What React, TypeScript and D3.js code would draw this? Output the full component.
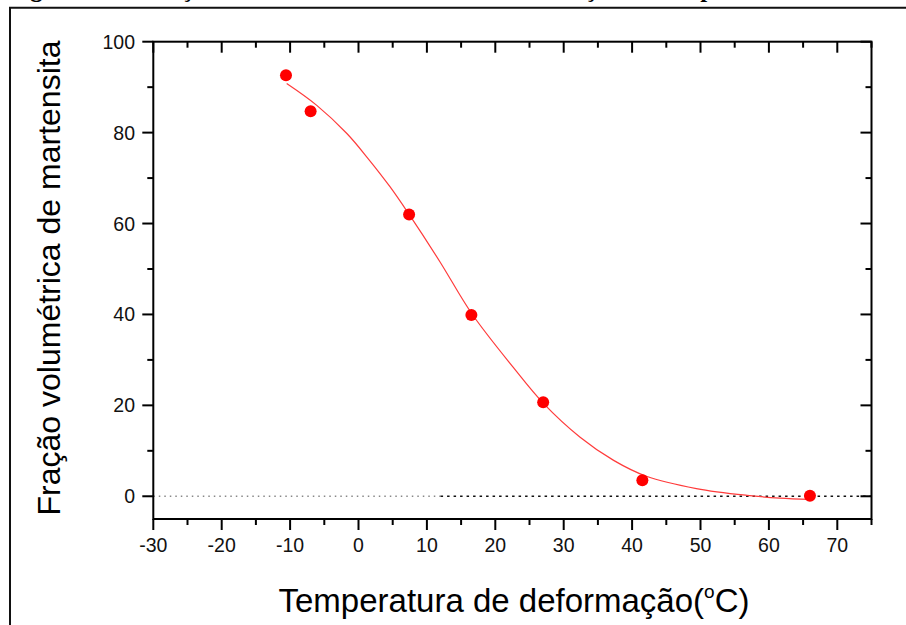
import React from 'react';
import * as d3 from 'd3';

// measured points
const tempC = [-10.6, -7.0, 7.4, 16.5, 27.0, 41.5, 66.0];
const fraction = [92.6, 84.7, 62.0, 39.9, 20.7, 3.5, 0.1];

// fitted curve
const fitTemp = [-10.5, -6.1, -1.7, 1.4, 4.6, 7.4, 11.9, 16.55, 22.6, 27.0, 32.4, 37.3, 42.1, 49.4, 56.8, 61.6, 66.0];
const fitFraction = [90.8, 86.0, 79.8, 74.3, 68.1, 62.0, 51.6, 40.2, 28.4, 20.5, 13.0, 7.9, 4.4, 1.7, 0.2, -0.4, -0.7];

const xMajor = [-30, -20, -10, 0, 10, 20, 30, 40, 50, 60, 70];
const xMinor = [-25, -15, -5, 5, 15, 25, 35, 45, 55, 65, 75];
const yMajor = [0, 20, 40, 60, 80, 100];
const yMinor = [10, 30, 50, 70, 90];

const caption = 'Figura 4.5 – Fração volumétrica de martensita em função da temperatura de deformação';

const W = 906;
const H = 625;
const left = 153.3;
const right = 871.5;
const top = 41.7;
const bottom = 519;

const sans = '"Liberation Sans", Arial, sans-serif';

export default function App() {
    const x = d3.scaleLinear().domain([-30, 75]).range([left, right]);
    const y = d3.scaleLinear().domain([-5, 100]).range([bottom, top]);

    const fit = d3.line<number>()
        .x(d => x(fitTemp[d]))
        .y(d => y(fitFraction[d]))
        .curve(d3.curveCatmullRom)(fitTemp.map((_, i) => i));

    const major = 11;
    const minor = 6;

    return (
        <svg width={W} height={H} style={{ position: 'absolute', left: 0, top: 0, background: '#fff' }}>
            <rect x={0} y={0} width={W} height={H} fill="#fff" />
            {/* caption line, cut off by the crop */}
            <text x={8} y={-3} fontFamily='"Liberation Serif", "Times New Roman", serif'
                fontWeight="bold" fontSize={25} fill="#000">{caption}</text>
            {/* page frame */}
            <path d={`M10,${H + 5}V7.8H${W + 5}`} fill="none" stroke="#111" strokeWidth={2} />

            {/* zero line */}
            <line x1={x(-30)} x2={x(12)} y1={y(0)} y2={y(0)} stroke="#888" strokeWidth={1.3} strokeDasharray="1.5 4" />
            <line x1={x(12)} x2={x(75)} y1={y(0)} y2={y(0)} stroke="#111" strokeWidth={1.3} strokeDasharray="2.5 4" />

            {/* ticks */}
            <g stroke="#000" strokeWidth={2}>
                {xMajor.map(v => (
                    <g key={'xM' + v}>
                        <line x1={x(v)} x2={x(v)} y1={bottom} y2={bottom + major} />
                        <line x1={x(v)} x2={x(v)} y1={top} y2={top + major} />
                    </g>
                ))}
                {xMinor.map(v => (
                    <g key={'xm' + v}>
                        <line x1={x(v)} x2={x(v)} y1={bottom} y2={bottom + minor} />
                        <line x1={x(v)} x2={x(v)} y1={top} y2={top + minor} />
                    </g>
                ))}
                {yMajor.map(v => (
                    <g key={'yM' + v}>
                        <line x1={left - major} x2={left} y1={y(v)} y2={y(v)} />
                        <line x1={right - major} x2={right} y1={y(v)} y2={y(v)} />
                    </g>
                ))}
                {yMinor.map(v => (
                    <g key={'ym' + v}>
                        <line x1={left - minor} x2={left} y1={y(v)} y2={y(v)} />
                        <line x1={right - minor} x2={right} y1={y(v)} y2={y(v)} />
                    </g>
                ))}
            </g>
            <rect x={left} y={top} width={right - left} height={bottom - top} fill="none" stroke="#000" strokeWidth={2} />

            {/* tick labels */}
            <g fontFamily={sans} fontSize={19.5} fill="#111">
                {xMajor.map(v => (
                    <text key={'xl' + v} x={x(v)} y={552} textAnchor="middle">{v}</text>
                ))}
                {yMajor.map(v => (
                    <text key={'yl' + v} x={135} y={y(v) + 7} textAnchor="end">{v}</text>
                ))}
            </g>

            {/* fit + points */}
            <path d={fit || ''} fill="none" stroke="#ff3b3b" strokeWidth={1.2} />
            {tempC.map((t, i) => (
                <circle key={'p' + i} cx={x(t)} cy={y(fraction[i])} r={6} fill="#ff0000" />
            ))}

            {/* axis titles */}
            <text x={514} y={612} textAnchor="middle" fontFamily={sans} fontSize={33} fill="#000">
                Temperatura de deformação(<tspan fontSize={19} dy={-14}>o</tspan><tspan dy={14}>C)</tspan>
            </text>
            <text transform={`translate(60,278) rotate(-90)`} textAnchor="middle" fontFamily={sans} fontSize={32} fill="#000">
                Fração volumétrica de martensita
            </text>
        </svg>
    );
}
